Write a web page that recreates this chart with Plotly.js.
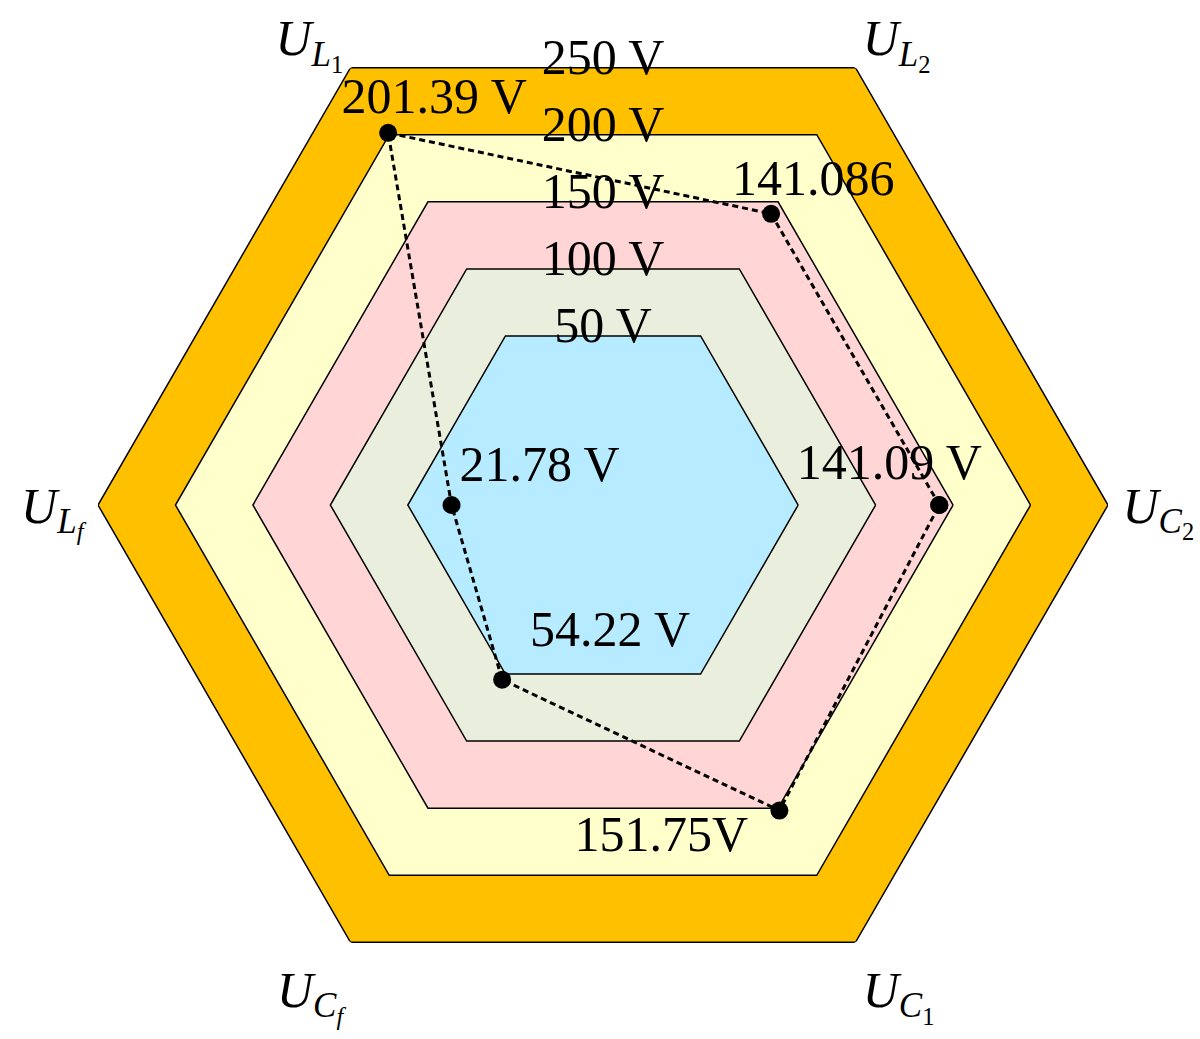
<!DOCTYPE html>
<html>
<head>
<meta charset="utf-8">
<script src="https://cdn.plot.ly/plotly-3.0.1.min.js"></script>
<style>html,body{margin:0;padding:0;background:#fff;}</style>
</head>
<body>
<div id="chart" style="width:1200px;height:1039px;"></div>
<script>
// ---- data ----
const axisNames = ['U_C2', 'U_L2', 'U_L1', 'U_Lf', 'U_Cf', 'U_C1'];
const axisLabels = [
  '<i>U</i><sub><i>C</i><sub>2</sub></sub>',
  '<i>U</i><sub><i>L</i><sub>2</sub></sub>',
  '<i>U</i><sub><i>L</i><sub>1</sub></sub>',
  '<i>U</i><sub><i>L</i><sub><i>f</i></sub></sub>',
  '<i>U</i><sub><i>C</i><sub><i>f</i></sub></sub>',
  '<i>U</i><sub><i>C</i><sub>1</sub></sub>'
];
const axisAngles = [0, 60, 120, 180, 240, 300];
const voltages = [141.09, 141.086, 201.39, 21.78, 54.22, 151.75];
const valueLabels = ['141.09 V', '141.086', '201.39 V', '21.78 V', '54.22 V', '151.75V'];
const ringValues = [250, 200, 150, 100, 50];
const ringLabels = ['250 V', '200 V', '150 V', '100 V', '50 V'];

// ---- styles / layout parameters ----
const ringColors = ['#FFC000', '#FFFFCC', '#FFD5D5', '#E9EFDC', '#B7EBFF'];
// pixel offsets (dx right, dy up) of each value label from its marker
const labelOffsets = [[-50, 39], [42, 31], [46, 32], [88, 37], [108, 46], [-118, -28]];
const radialRange = [-76, 250];
const W = 1200, H = 1039;
const margin = {l: 98, r: 92, t: 0, b: 29, pad: 0};
const FONT = 'Liberation Serif, Times New Roman, serif';

// polar radius in pixels (plotly fits the circle into the plot area)
const plotW = W - margin.l - margin.r, plotH = H - margin.t - margin.b;
const radiusPx = Math.min(plotW, plotH) / 2;
const pxPerUnit = radiusPx / (radialRange[1] - radialRange[0]);

function shiftPolar(r, thetaDeg, dx, dy) {
  const rho = (r - radialRange[0]) * pxPerUnit;
  const t = thetaDeg * Math.PI / 180;
  const x = rho * Math.cos(t) + dx, y = rho * Math.sin(t) + dy;
  return [radialRange[0] + Math.hypot(x, y) / pxPerUnit, Math.atan2(y, x) * 180 / Math.PI];
}

const closedTheta = axisAngles.concat([axisAngles[0]]);
const traces = [];

ringValues.forEach((v, i) => {
  traces.push({
    type: 'scatterpolar',
    mode: 'lines',
    r: closedTheta.map(() => v),
    theta: closedTheta,
    fill: 'toself',
    fillcolor: ringColors[i],
    line: {color: '#000', width: 1.5},
    cliponaxis: false,
    hoverinfo: 'skip',
    showlegend: false
  });
});

// ring labels on the top edge of each hexagon
const ringLabelPos = ringValues.map(v => {
  const edgePx = (v - radialRange[0]) * pxPerUnit * Math.cos(Math.PI / 6);
  return shiftPolar(radialRange[0] + edgePx / pxPerUnit, 90, 0, 6);
});
traces.push({
  type: 'scatterpolar',
  mode: 'text',
  r: ringLabelPos.map(p => p[0]),
  theta: ringLabelPos.map(p => p[1]),
  text: ringLabels,
  textposition: 'middle center',
  textfont: {family: FONT, size: 50, color: '#000'},
  cliponaxis: false,
  hoverinfo: 'skip',
  showlegend: false
});

// data polygon
traces.push({
  type: 'scatterpolar',
  mode: 'lines+markers',
  r: voltages.concat([voltages[0]]),
  theta: closedTheta,
  line: {color: '#000', width: 3, dash: '6px,4px'},
  marker: {color: '#000', size: 18},
  cliponaxis: false,
  showlegend: false
});

// value labels
const valueLabelPos = voltages.map((v, i) => shiftPolar(v, axisAngles[i], labelOffsets[i][0], labelOffsets[i][1]));
traces.push({
  type: 'scatterpolar',
  mode: 'text',
  r: valueLabelPos.map(p => p[0]),
  theta: valueLabelPos.map(p => p[1]),
  text: valueLabels,
  textposition: 'middle center',
  textfont: {family: FONT, size: 50, color: '#000'},
  cliponaxis: false,
  hoverinfo: 'skip',
  showlegend: false
});

const layout = {
  width: W,
  height: H,
  margin: margin,
  paper_bgcolor: '#fff',
  showlegend: false,
  polar: {
    bgcolor: 'rgba(0,0,0,0)',
    radialaxis: {
      range: radialRange,
      showgrid: false, showline: false, showticklabels: false, ticks: ''
    },
    angularaxis: {
      type: 'linear',
      rotation: 0,
      direction: 'counterclockwise',
      tickmode: 'array',
      tickvals: axisAngles,
      ticktext: axisLabels,
      showgrid: false,
      showline: false,
      ticks: 'outside',
      ticklen: 4,
      tickcolor: 'rgba(0,0,0,0)',
      tickfont: {family: FONT, size: 50, color: '#000'}
    }
  }
};

Plotly.newPlot('chart', traces, layout, {displayModeBar: false, staticPlot: true});
</script>
</body>
</html>
